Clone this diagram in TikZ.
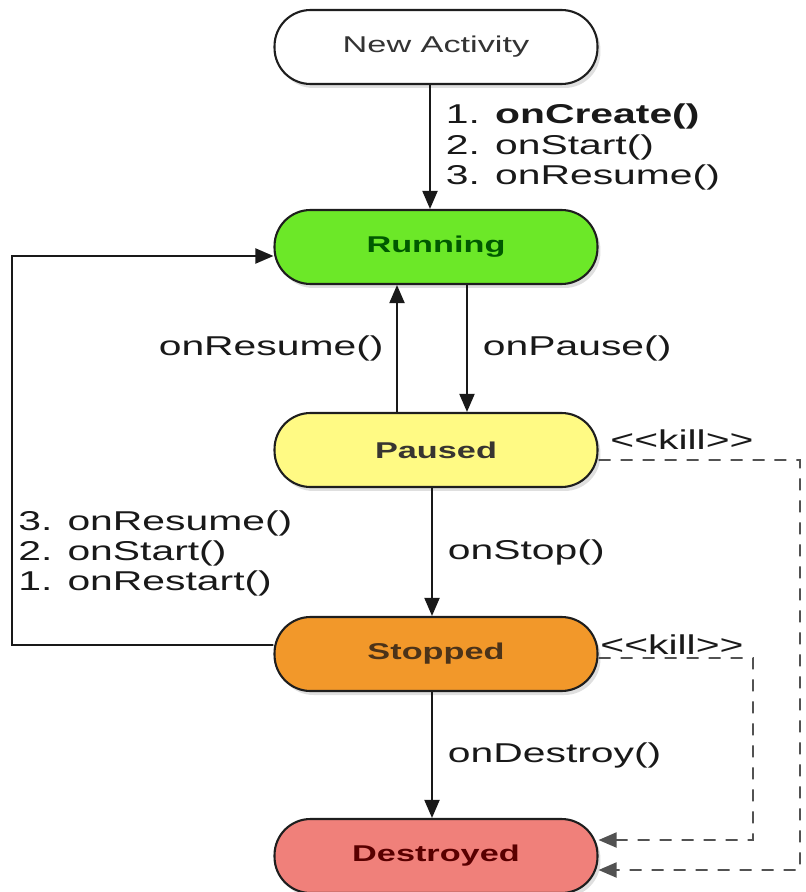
\documentclass[tikz,border=0pt]{standalone}
\usepackage{fontspec}
\setmainfont{Liberation Sans}[FakeStretch=1.5]
\usepackage{xcolor}
\usepackage{tikz}
\usetikzlibrary{arrows.meta, positioning, calc, shadows}
\definecolor{ALRunning}{RGB}{108, 232, 40}
\definecolor{ALPaused}{RGB}{255, 250, 132}
\definecolor{ALStopped}{RGB}{242, 152, 42}
\definecolor{ALDestroyed}{RGB}{240, 128, 122}
\definecolor{ALBorder}{RGB}{30, 30, 30}
\definecolor{ALTextDark}{RGB}{25, 25, 25}

\tikzset{
  state/.style={
    rounded corners=0.72cm, draw=ALBorder, line width=1.2pt,
    minimum width=6.46cm, minimum height=1.48cm, inner sep=0pt,
    font=\fontsize{13}{15}\selectfont\bfseries,
    drop shadow={opacity=0.25, shadow xshift=0.06cm, shadow yshift=-0.08cm}
  },
  arr/.style={draw=ALTextDark, line width=1.1pt, -{Triangle[length=0.36cm, width=0.3cm]}},
  killarr/.style={arr, dash pattern=on 0.24cm off 0.2cm, draw=ALTextDark!75},
  lbl/.style={font=\fontsize{15.5}{17.2}\selectfont, text=ALTextDark, inner sep=0pt}
}

\begin{document}
\begin{tikzpicture}[x=0.02cm, y=-0.02cm]
  \useasboundingbox (0,0) rectangle (805,892);

  % states
  \node[state, fill=white, font=\fontsize{13}{15}\selectfont, text=black!80] (new) at (436,47) {New Activity};
  \node[state, fill=ALRunning, text=green!35!black] (run) at (436,247) {Running};
  \node[state, fill=ALPaused, text=black!90!yellow] (pause) at (436,450) {Paused};
  \node[state, fill=ALStopped, text=brown!40!black] (stop) at (436,654) {Stopped};
  \node[state, fill=ALDestroyed, text=red!35!black] (dest) at (436,856) {Destroyed};

  % transitions
  \draw[arr] ([xshift=-0.12cm]new.south) -- ([xshift=-0.12cm]run.north)
    node[lbl, midway, right=0.3cm, align=left] {1. \textbf{onCreate()}\\2. onStart()\\3. onResume()};
  \draw[arr] ([xshift=0.62cm]run.south) -- ([xshift=0.62cm]pause.north)
    node[lbl, midway, right=0.3cm] {onPause()};
  \draw[arr] ([xshift=-0.78cm]pause.north) -- ([xshift=-0.78cm]run.south)
    node[lbl, midway, left=0.25cm] {onResume()};
  \draw[arr] ([xshift=-0.08cm]pause.south) -- ([xshift=-0.08cm]stop.north)
    node[lbl, midway, right=0.3cm] {onStop()};
  \draw[arr] ([xshift=-0.08cm]stop.south) -- ([xshift=-0.08cm]dest.north)
    node[lbl, midway, right=0.3cm] {onDestroy()};

  % restart loop
  \coordinate (loop) at (12,256);
  \draw[arr] ([yshift=0.18cm]stop.west) -| (loop) -- ([yshift=-0.18cm]run.west);
  \node[lbl, anchor=north west, align=left] (restart) at (18,510)
    {3. onResume()\\2. onStart()\\1. onRestart()};

  % kill paths
  \coordinate (killp) at (800,460);
  \coordinate (kills) at (753,658);
  \draw[killarr] ([yshift=-0.2cm]pause.east) -- (killp) |- ([yshift=-0.28cm]dest.east);
  \draw[killarr] ([yshift=-0.08cm]stop.east) -- (kills) |- ([yshift=0.32cm]dest.east);
  \node[lbl] (killa) at (682,440) {<{}<kill>{}>};
  \node[lbl] (killb) at (672,645) {<{}<kill>{}>};
\end{tikzpicture}
\end{document}
